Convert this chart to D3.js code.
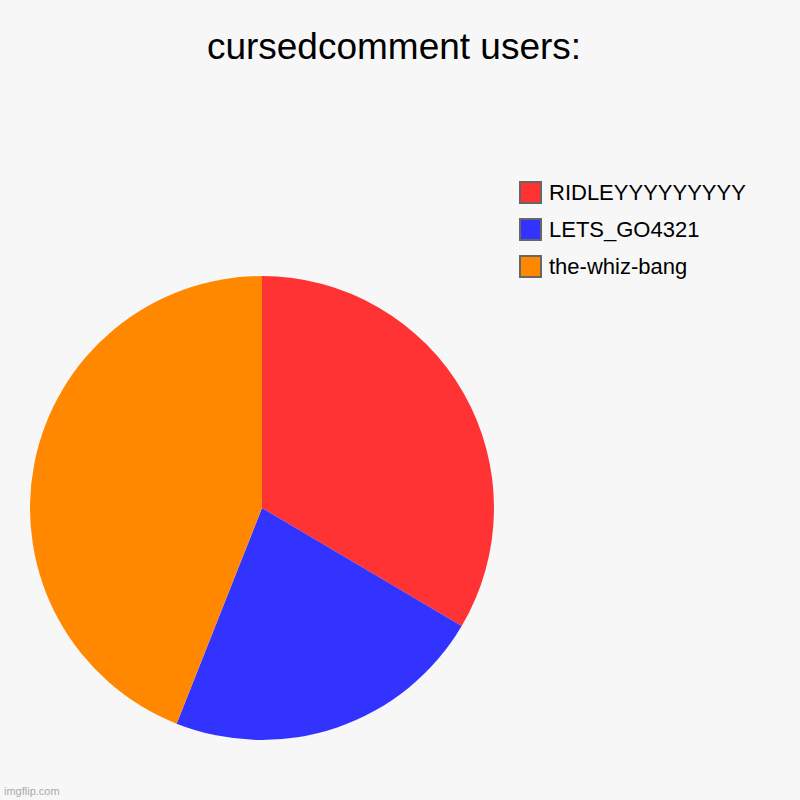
<!DOCTYPE html>
<html>
<head>
<meta charset="utf-8">
<script src="https://cdnjs.cloudflare.com/ajax/libs/d3/7.8.5/d3.min.js"></script>
<style>
  body { margin: 0; background: #f7f7f7; }
  svg { display: block; font-family: "Liberation Sans", Arial, sans-serif; }
</style>
</head>
<body>
<div id="chart"></div>
<script>
var title = "cursedcomment users:";
var names = ["RIDLEYYYYYYYYY", "LETS_GO4321", "the-whiz-bang"];
var counts = [33.5, 22.5, 44];
var colors = ["#ff3333", "#3333ff", "#ff8800"];

var width = 800, height = 800;
var cx = 262, cy = 508, radius = 232;

var svg = d3.select("#chart").append("svg")
  .attr("width", width)
  .attr("height", height);

svg.append("rect")
  .attr("width", width)
  .attr("height", height)
  .attr("fill", "#f7f7f7");

svg.append("text")
  .attr("x", 394)
  .attr("y", 59)
  .attr("text-anchor", "middle")
  .attr("font-size", 37)
  .attr("fill", "#000")
  .text(title);

var color = d3.scaleOrdinal().domain(names).range(colors);

var pie = d3.pie().sort(null).value(function(d, i) { return counts[i]; });
var arc = d3.arc().innerRadius(0).outerRadius(radius);

var g = svg.append("g").attr("transform", "translate(" + cx + "," + cy + ")");
g.selectAll("path")
  .data(pie(names))
  .enter().append("path")
  .attr("d", arc)
  .attr("fill", function(d) { return color(d.data); });

// legend
var legend = svg.append("g").attr("transform", "translate(519,181)");
var item = legend.selectAll("g")
  .data(names)
  .enter().append("g")
  .attr("transform", function(d, i) { return "translate(0," + (i * 37) + ")"; });

item.append("rect")
  .attr("x", 1).attr("y", 1)
  .attr("width", 21).attr("height", 21)
  .attr("fill", function(d) { return color(d); })
  .attr("stroke", "#666")
  .attr("stroke-width", 2);

item.append("text")
  .attr("x", 30)
  .attr("y", 19)
  .attr("font-size", 22)
  .attr("fill", "#000")
  .text(function(d) { return d; });

svg.append("text")
  .attr("x", 4)
  .attr("y", 795)
  .attr("font-size", 11)
  .attr("fill", "#aaa")
  .text("imgflip.com");
</script>
</body>
</html>
